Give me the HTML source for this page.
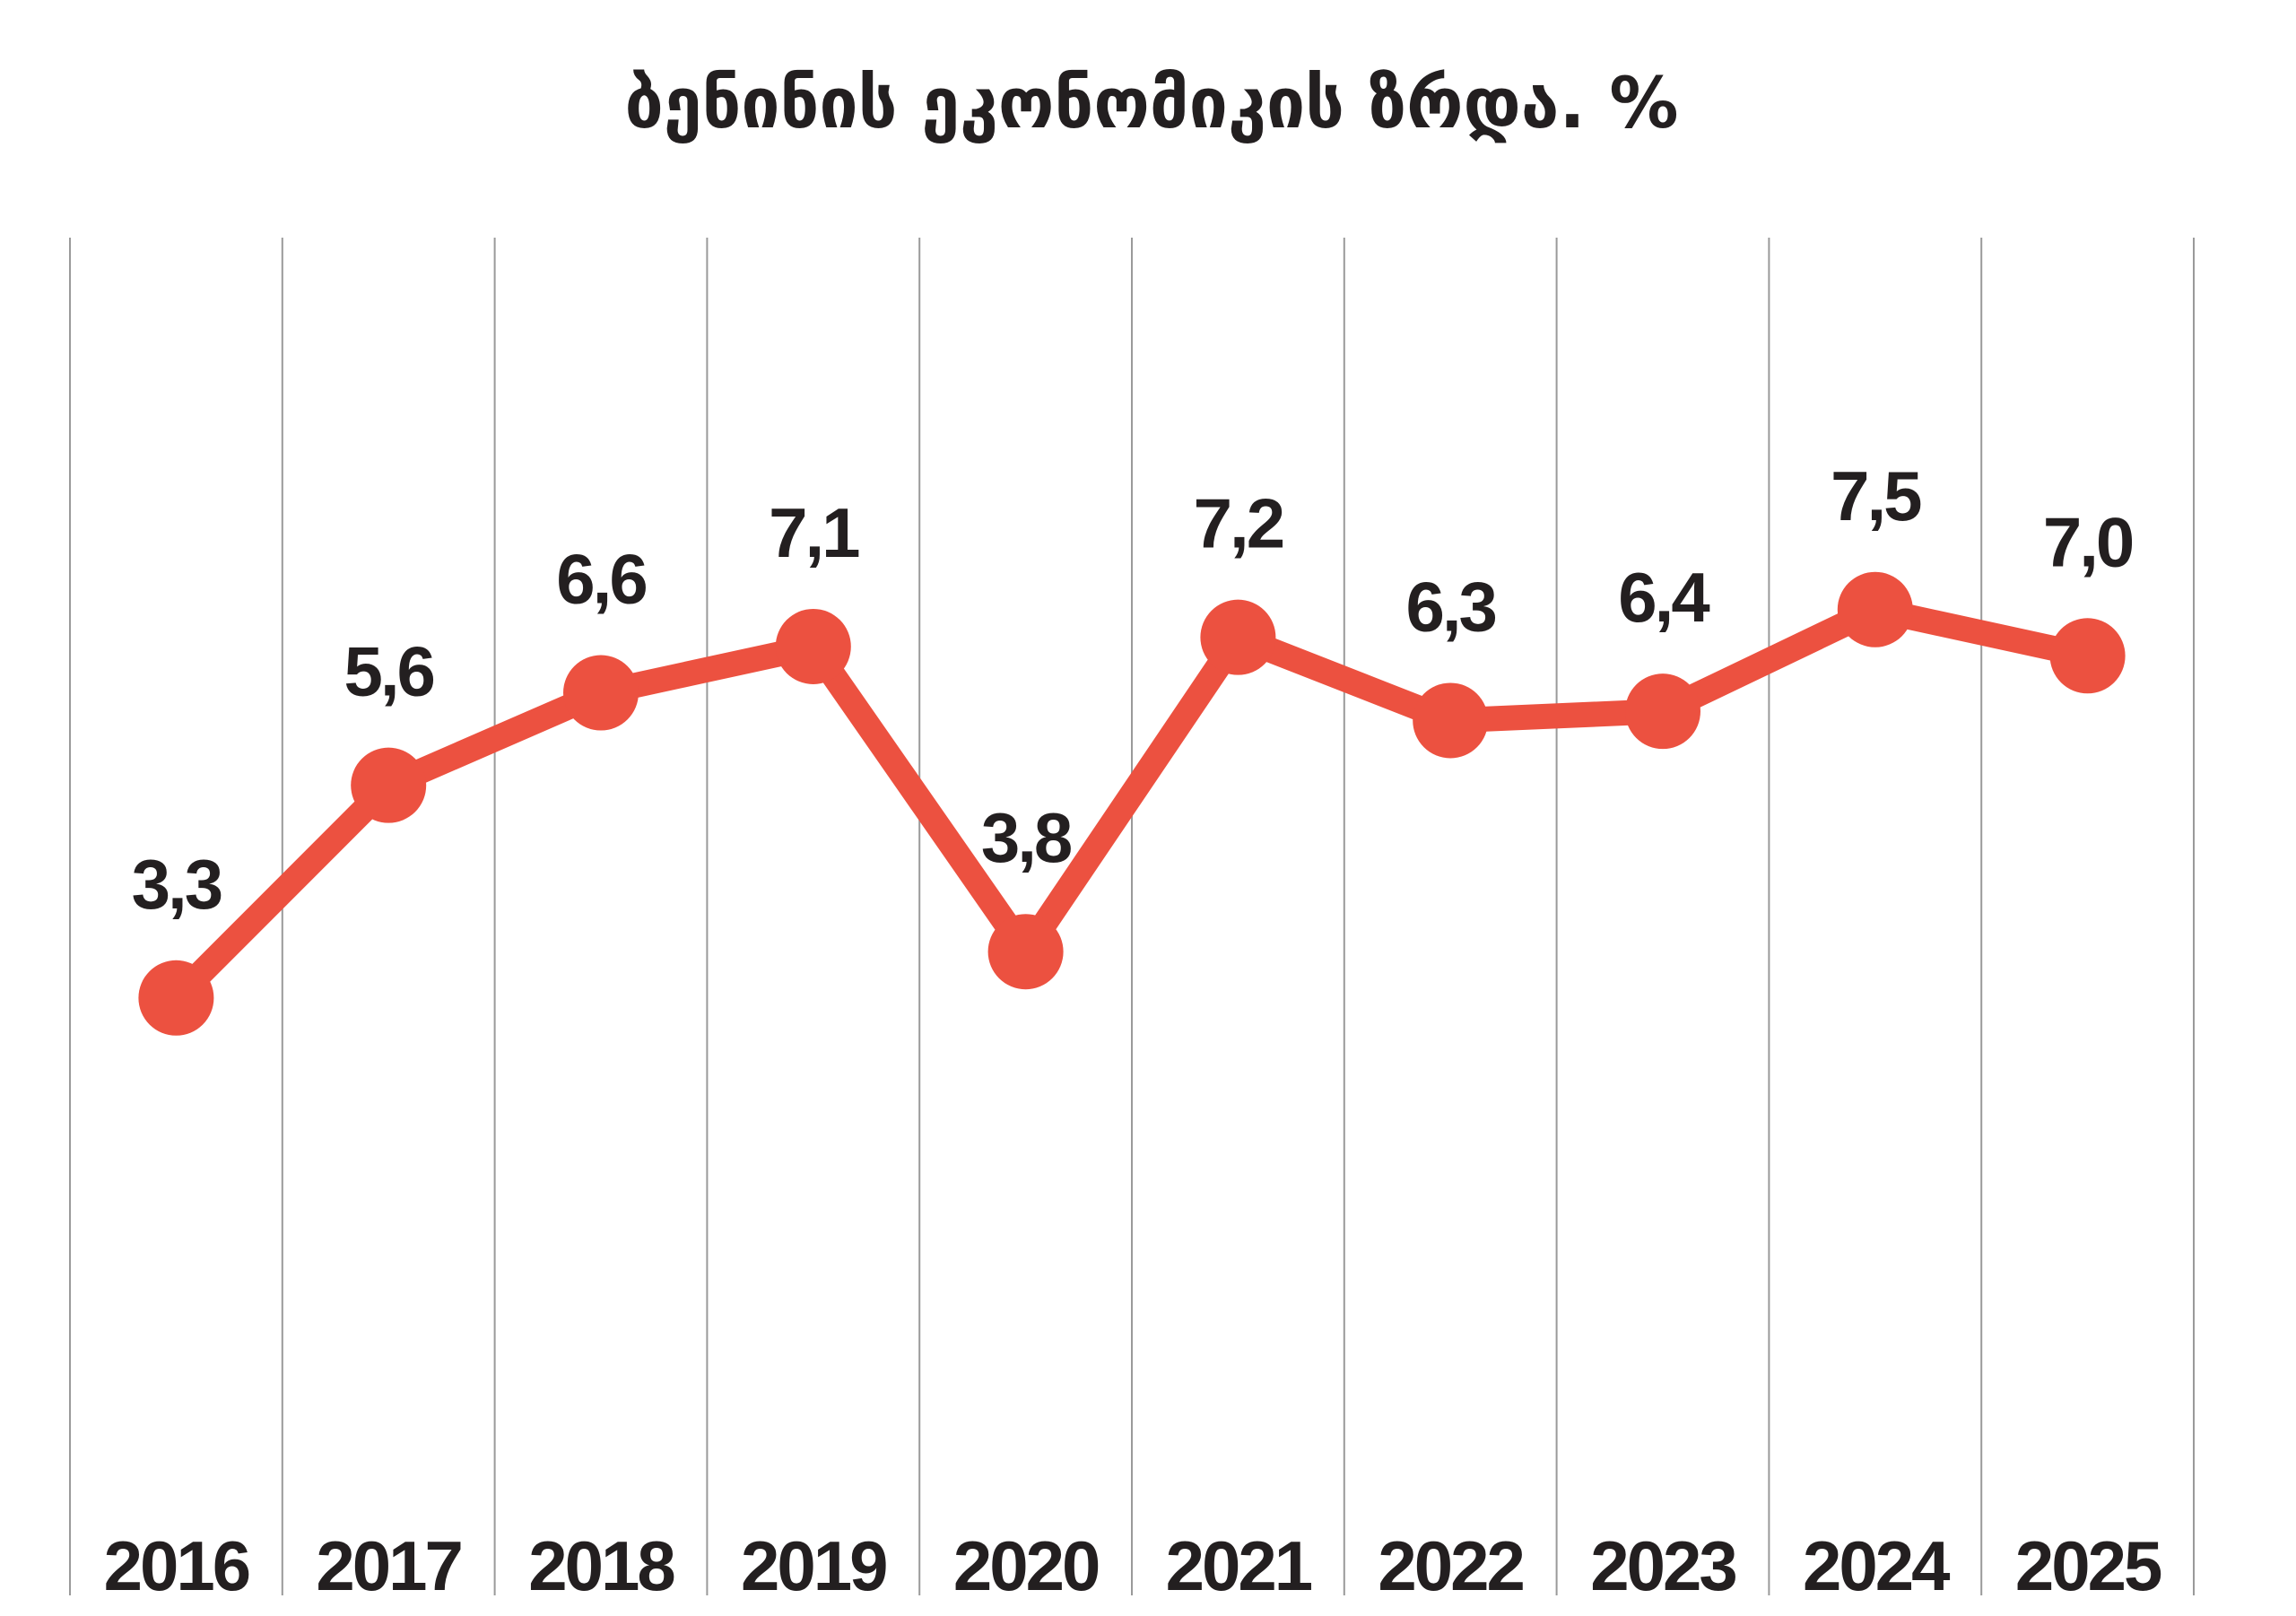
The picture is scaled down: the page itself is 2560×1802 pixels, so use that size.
<!DOCTYPE html>
<html><head><meta charset="utf-8"><style>
html,body{margin:0;padding:0;background:#fff}
svg{display:block}
text{font-family:"Liberation Sans","DejaVu Sans",sans-serif;fill:#231f20}
</style></head><body>
<svg id="chart" width="2560" height="1802" viewBox="0 0 2560 1802">
<text x="1284" y="142" font-size="78" font-weight="bold" text-anchor="middle" textLength="1175" lengthAdjust="spacingAndGlyphs" style="font-family:'DejaVu Sans',sans-serif">ბენინის ეკონომიკის ზრდა. %</text>
<g id="grid"></g>
<g id="series"></g>
<g id="xaxis"></g>
</svg>
<script>
const years = ["2016","2017","2018","2019","2020","2021","2022","2023","2024","2025"];
const growth = [3.3,5.6,6.6,7.1,3.8,7.2,6.3,6.4,7.5,7.0];
const valueLabels = ["3,3","5,6","6,6","7,1","3,8","7,2","6,3","6,4","7,5","7,0"];

const NS="http://www.w3.org/2000/svg";
const x0=78, colW=236.8, plotTop=265, plotBottom=1779;
function xPos(i){return x0+colW*(i+0.5);}
function yPos(v){return 1453-103.1*v;}
function mk(tag,attrs,parent){const e=document.createElementNS(NS,tag);for(const k in attrs)e.setAttribute(k,attrs[k]);parent.appendChild(e);return e;}
const grid=document.getElementById('grid'),series=document.getElementById('series'),xaxis=document.getElementById('xaxis');
for(let k=0;k<=years.length;k++){
  const gx=x0+colW*k;
  const l=mk('line',{x1:gx,x2:gx,y1:plotTop,y2:plotBottom,stroke:'#9a9a9a','stroke-width':2},grid);
  
  
}
const pts=growth.map((v,i)=>xPos(i)+','+yPos(v)).join(' ');
const pl=mk('polyline',{points:pts,fill:'none',stroke:'#ec5140','stroke-width':28,'stroke-linejoin':'miter'},series);


growth.forEach((v,i)=>{
  const c=mk('circle',{cx:xPos(i),cy:yPos(v),r:42,fill:'#ec5140'},series);
  
  
  const t=mk('text',{x:xPos(i),y:yPos(v)-100,'font-size':78,'font-weight':'bold','letter-spacing':-3,'text-anchor':'middle'},series);
  t.textContent=valueLabels[i];
  
  
});
years.forEach((y,i)=>{
  const t=mk('text',{x:xPos(i),y:1773,'font-size':78,'font-weight':'bold','letter-spacing':-3,'text-anchor':'middle'},xaxis);
  t.textContent=y;
  
  
});
</script>
</body></html>
